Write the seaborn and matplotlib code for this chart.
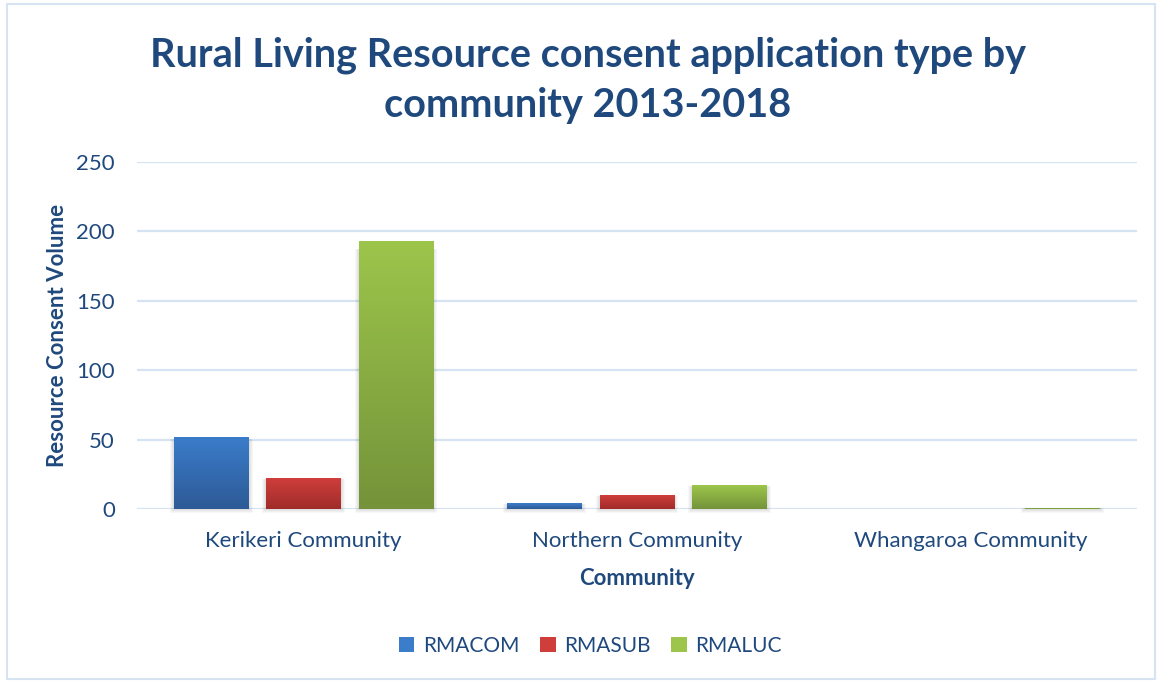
import numpy as np
import pandas as pd
import matplotlib
matplotlib.use("Agg")
import matplotlib.pyplot as plt
import matplotlib.colors as mcolors
from matplotlib.patches import Rectangle
import seaborn as sns

communities = ["Kerikeri Community", "Northern Community", "Whangaroa Community"]
series = ["RMACOM", "RMASUB", "RMALUC"]
rmacom = [52, 4, 0]
rmasub = [22, 10, 0]
rmaluc = [193, 17, 1]
y_ticks = [0, 50, 100, 150, 200, 250]

# colour pairs (top, bottom) for the gradient fill of each series
top_colors = ["#3B7DCB", "#CF3E3B", "#9DC54B"]
bottom_colors = ["#2D5A96", "#A02C2A", "#74933A"]

text_color = "#1F497D"
grid_color = "#D6E3F3"

df = pd.DataFrame({
    "Community": np.repeat(communities, len(series)),
    "Type": series * len(communities),
    "Volume": [v for trio in zip(rmacom, rmasub, rmaluc) for v in trio],
})

sns.set_theme(style="white")
plt.rcParams["font.family"] = ["Lato", "DejaVu Sans"]

fig = plt.figure(figsize=(11.62, 6.81), dpi=100)
ax = fig.add_axes([137 / 1162, 1 - 509 / 681, 1000 / 1162, 347 / 681])

sns.barplot(data=df, x="Community", y="Volume", hue="Type", hue_order=series,
            palette=top_colors, saturation=1, width=0.83, gap=0.19, ax=ax,
            legend=False, edgecolor="none", zorder=3)

ax.set_ylim(0, 250)
ax.set_xlim(-0.5, 2.5)
ax.set_yticks(y_ticks)
ax.yaxis.grid(True, color=grid_color, linewidth=1.6, zorder=0)
ax.xaxis.grid(False)
for s in ax.spines.values():
    s.set_visible(False)
ax.tick_params(axis="both", length=0, labelsize=16, labelcolor=text_color)
ax.tick_params(axis="y", pad=16)
ax.tick_params(axis="x", pad=16)
ax.set_xlabel("Community", fontsize=16, fontweight="bold", color=text_color, labelpad=12)
ax.set_ylabel("Resource Consent Volume", fontsize=16, fontweight="bold", color=text_color, labelpad=6)

# gradient fill and soft shadow for every bar, one container per series
for idx, container in enumerate(ax.containers):
    cmap = mcolors.LinearSegmentedColormap.from_list(
        "g", [bottom_colors[idx], top_colors[idx]])
    grad = np.linspace(0, 1, 256).reshape(-1, 1)
    for bar in container:
        x0, y0 = bar.get_x(), bar.get_y()
        w, h = bar.get_width(), bar.get_height()
        if h <= 0:
            continue
        im = ax.imshow(grad, extent=[x0, x0 + w, y0, y0 + h], origin="lower",
                       cmap=cmap, aspect="auto", zorder=3.2)
        im.set_clip_path(bar)
        for k in range(4):
            off = 0.003 + k * 0.003
            ax.add_patch(Rectangle((x0 - off, y0 - 0.8 - k * 0.6),
                                   w + 2 * off, h * 0.97 + 0.8 + k * 0.6,
                                   facecolor="black", alpha=0.03,
                                   edgecolor="none", zorder=2.9,
                                   clip_on=False))
ax.set_xlim(-0.5, 2.5)
ax.set_ylim(0, 250)

fig.text(0.506, 1 - 55 / 681, "Rural Living Resource consent application type by",
         ha="center", va="center", fontsize=28.5, fontweight="bold", color=text_color)
fig.text(0.506, 1 - 105 / 681, "community 2013-2018",
         ha="center", va="center", fontsize=28.5, fontweight="bold", color=text_color)

# legend at the bottom
handles = [Rectangle((0, 0), 1, 1, facecolor=c, edgecolor="none") for c in top_colors]
fig.legend(handles, series, loc="center", bbox_to_anchor=(0.508, 1 - 646 / 681),
           ncol=3, frameon=False, fontsize=15, handlelength=0.75, handleheight=0.75,
           columnspacing=1.0, handletextpad=0.4, labelcolor=text_color)

# outer chart border
fig.add_artist(Rectangle((7 / 1162, 2 / 681), 1 - 14 / 1162, 1 - 6 / 681,
                         transform=fig.transFigure, fill=False,
                         edgecolor=grid_color, linewidth=1.5))

fig.savefig("out.png", dpi=100)
